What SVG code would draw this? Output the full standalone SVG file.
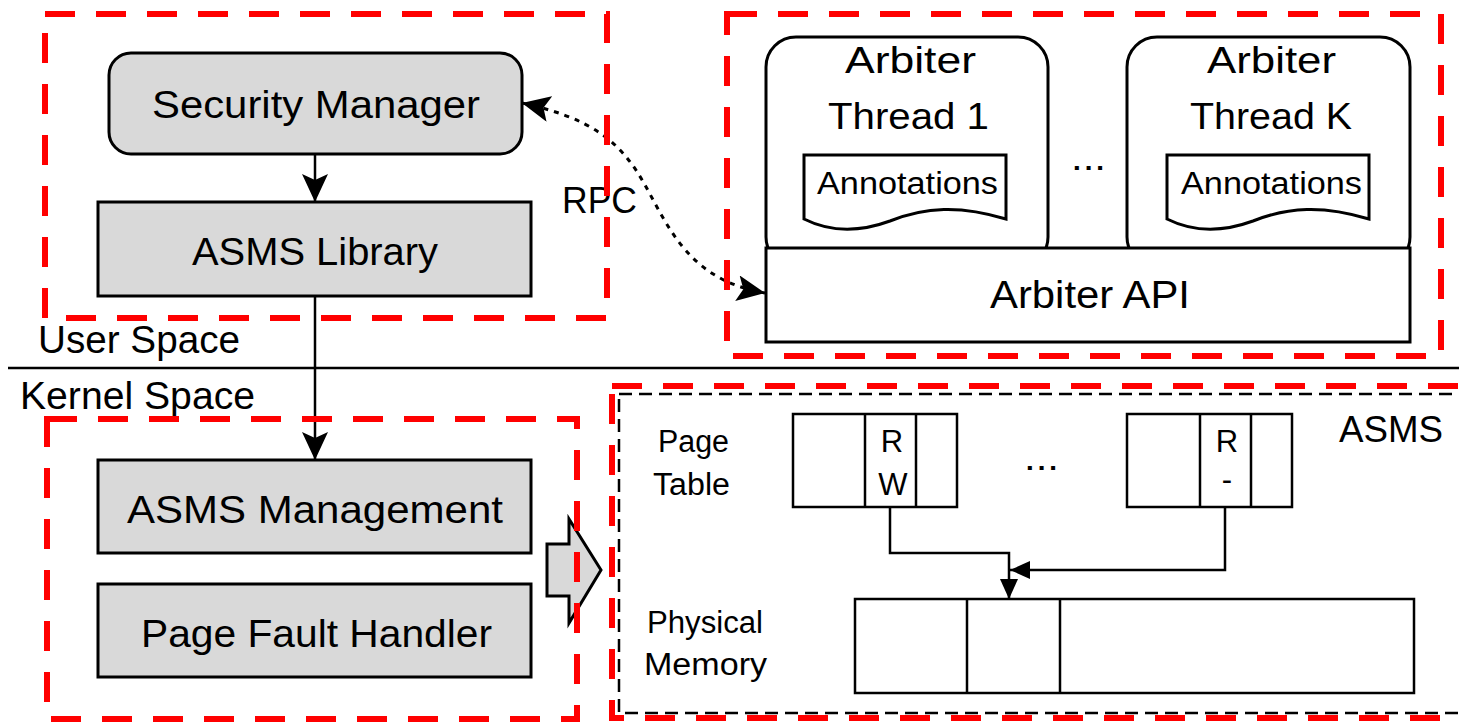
<svg xmlns="http://www.w3.org/2000/svg" width="1459" height="724" viewBox="0 0 1459 724">
<style>
text{font-family:"Liberation Sans",Arial,sans-serif;fill:#000}
.big{font-size:38px}
.mid{font-size:36px}
.sm{font-size:31px}
.gray{fill:#d9d9d9;stroke:#000;stroke-width:3}
.wbox{fill:#fff;stroke:#000;stroke-width:3}
.cell{fill:#fff;stroke:#000;stroke-width:2.5}
.red{fill:none;stroke:#ff0000;stroke-width:6;stroke-dasharray:30 21}
.bdash{fill:none;stroke:#000;stroke-width:2.5;stroke-dasharray:13 7}
.line{fill:none;stroke:#000;stroke-width:2.5}
</style>
<defs>
<marker id="big" viewBox="0 0 28 26" refX="28" refY="13" markerWidth="28" markerHeight="26" markerUnits="userSpaceOnUse" orient="auto"><path d="M0,0 L28,13 L0,26 L6,13 Z" fill="#000"/></marker>
<marker id="big2" viewBox="0 0 28 26" refX="28" refY="13" markerWidth="28" markerHeight="26" markerUnits="userSpaceOnUse" orient="auto-start-reverse"><path d="M0,0 L28,13 L0,26 L6,13 Z" fill="#000"/></marker>
<marker id="sm" viewBox="0 0 20 18" refX="20" refY="9" markerWidth="20" markerHeight="18" markerUnits="userSpaceOnUse" orient="auto"><path d="M0,0 L20,9 L0,18 Z" fill="#000"/></marker>
</defs>

<!-- separator -->
<line x1="8" y1="368" x2="1459" y2="368" stroke="#000" stroke-width="2.5"/>
<text class="big" x="38" y="353" textLength="202" lengthAdjust="spacingAndGlyphs">User Space</text>
<text class="big" x="20" y="409" textLength="235" lengthAdjust="spacingAndGlyphs">Kernel Space</text>

<g id="connectors">
<line class="line" x1="315" y1="154" x2="315" y2="202" marker-end="url(#big)"/>
<line class="line" x1="315" y1="296" x2="315" y2="460" marker-end="url(#big)"/>
<path d="M522,103 C590,118 620,140 645,185 C670,230 690,280 765,293" fill="none" stroke="#000" stroke-width="3" stroke-dasharray="5 6" marker-start="url(#big2)" marker-end="url(#big)"/>
<polyline class="line" points="890,507 890,553 1009,553 1009,599" marker-end="url(#sm)"/>
<polyline class="line" points="1225,507 1225,570 1010,570" marker-end="url(#sm)"/>
<path d="M547,544 H569 V519 L601,570 L569,623 V596 H547 Z" fill="#d9d9d9" stroke="#000" stroke-width="3" stroke-linejoin="miter"/>
</g>
<text class="mid" x="562" y="213" textLength="75" lengthAdjust="spacingAndGlyphs">RPC</text>

<g id="security-manager">
<rect class="gray" x="109" y="53" width="413" height="101" rx="22"/>
<text class="big" x="152" y="118" textLength="328" lengthAdjust="spacingAndGlyphs">Security Manager</text>
</g>
<g id="asms-library">
<rect class="gray" x="98" y="202" width="433" height="94"/>
<text class="big" x="192" y="265" textLength="246" lengthAdjust="spacingAndGlyphs">ASMS Library</text>
</g>
<g id="asms-management">
<rect class="gray" x="98" y="460" width="433" height="93"/>
<text class="big" x="127" y="523" textLength="376" lengthAdjust="spacingAndGlyphs">ASMS  Management</text>
</g>
<g id="page-fault-handler">
<rect class="gray" x="98" y="584" width="433" height="93"/>
<text class="big" x="141" y="647" textLength="351" lengthAdjust="spacingAndGlyphs">Page Fault Handler</text>
</g>

<g id="arbiter-thread-1">
<rect class="wbox" x="766" y="37" width="282" height="230" rx="30"/>
<text class="mid" x="845" y="73" textLength="131" lengthAdjust="spacingAndGlyphs">Arbiter</text>
<text class="mid" x="828" y="129" textLength="161" lengthAdjust="spacingAndGlyphs">Thread 1</text>
<path class="wbox" d="M804,155 H1006 V219 C960,205 925,207 890,221 C860,232 830,232 804,219 Z"/>
<text class="sm" x="817" y="194" textLength="181" lengthAdjust="spacingAndGlyphs">Annotations</text>
</g>
<g id="arbiter-thread-k">
<rect class="wbox" x="1127" y="37" width="283" height="230" rx="30"/>
<text class="mid" x="1207" y="73" textLength="129" lengthAdjust="spacingAndGlyphs">Arbiter</text>
<text class="mid" x="1190" y="129" textLength="162" lengthAdjust="spacingAndGlyphs">Thread K</text>
<path class="wbox" d="M1167,155 H1369 V219 C1323,205 1288,207 1253,221 C1223,232 1193,232 1167,219 Z"/>
<text class="sm" x="1181" y="194" textLength="181" lengthAdjust="spacingAndGlyphs">Annotations</text>
</g>
<text class="mid" x="1071" y="170" textLength="35" lengthAdjust="spacingAndGlyphs">...</text>
<g id="arbiter-api">
<rect class="wbox" x="766" y="248" width="644" height="94"/>
<text class="big" x="990" y="308" textLength="200" lengthAdjust="spacingAndGlyphs">Arbiter API</text>
</g>

<g id="asms">
<rect class="bdash" x="619" y="394" width="850" height="319"/>
<text class="mid" x="1339" y="442" textLength="104" lengthAdjust="spacingAndGlyphs">ASMS</text>
<text class="sm" x="658" y="452" textLength="71" lengthAdjust="spacingAndGlyphs">Page</text>
<text class="sm" x="653" y="495" textLength="77" lengthAdjust="spacingAndGlyphs">Table</text>
<text class="sm" x="647" y="633" textLength="116" lengthAdjust="spacingAndGlyphs">Physical</text>
<text class="sm" x="644" y="675" textLength="123" lengthAdjust="spacingAndGlyphs">Memory</text>
</g>
<g id="page-table-1">
<rect class="cell" x="793" y="414" width="164" height="93"/>
<line class="line" x1="865" y1="414" x2="865" y2="507"/>
<line class="line" x1="916" y1="414" x2="916" y2="507"/>
<text class="sm" x="892" y="452" text-anchor="middle">R</text>
<text class="sm" x="893" y="495" text-anchor="middle">W</text>
</g>
<text class="mid" x="1024" y="470" textLength="35" lengthAdjust="spacingAndGlyphs">...</text>
<g id="page-table-k">
<rect class="cell" x="1127" y="414" width="165" height="93"/>
<line class="line" x1="1200" y1="414" x2="1200" y2="507"/>
<line class="line" x1="1251" y1="414" x2="1251" y2="507"/>
<text class="sm" x="1227" y="452" text-anchor="middle">R</text>
<text class="sm" x="1227" y="490" text-anchor="middle">-</text>
</g>
<g id="physical-memory">
<rect class="cell" x="855" y="599" width="559" height="94"/>
<line class="line" x1="967" y1="599" x2="967" y2="693"/>
<line class="line" x1="1060" y1="599" x2="1060" y2="693"/>
</g>

<g id="groups">
<rect class="red" x="45" y="14" width="562" height="304"/>
<rect class="red" x="727" y="14" width="714" height="342"/>
<rect class="red" x="47" y="419" width="530" height="300"/>
<rect class="red" x="612" y="386" width="860" height="332"/>
</g>
</svg>
